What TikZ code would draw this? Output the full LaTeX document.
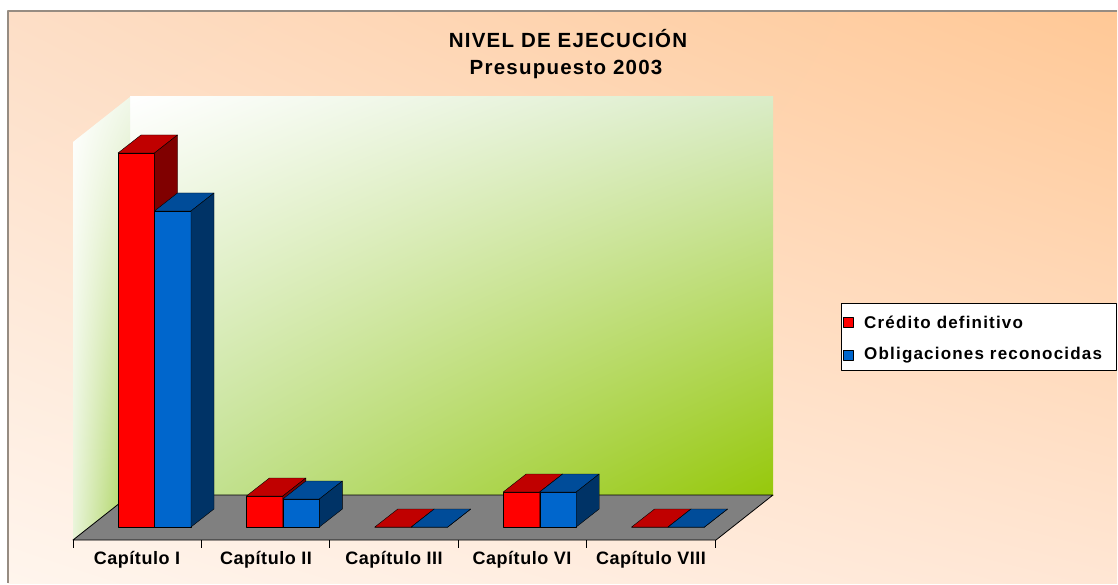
\documentclass[tikz,border=0pt]{standalone}
\usepackage{fontspec}
\setmainfont{Liberation Sans}
\usepackage{tikz}
\usetikzlibrary{shadings}

\definecolor{fondoA}{RGB}{253,222,198}
\definecolor{fondoB}{RGB}{255,200,150}
\definecolor{fondoC}{RGB}{255,245,237}
\definecolor{fondoD}{RGB}{255,230,212}
\definecolor{verdeA}{RGB}{218,236,200}
\definecolor{verdeB}{RGB}{200,228,162}
\definecolor{verdeC}{RGB}{150,200,10}
\definecolor{verdeD}{RGB}{165,208,80}
\definecolor{rojoF}{RGB}{255,0,0}
\definecolor{rojoT}{RGB}{192,0,0}
\definecolor{rojoS}{RGB}{128,0,0}
\definecolor{azulF}{RGB}{0,102,204}
\definecolor{azulT}{RGB}{0,76,153}
\definecolor{azulS}{RGB}{0,51,102}
\definecolor{marco}{RGB}{150,140,130}

% x, height, front, top, side
\newcommand{\cajabar}[5]{%
	\filldraw[fill=#3] (#1,527) rectangle ++(36.5,-#2);
	\filldraw[fill=#4] (#1,527-#2) -- ++(23,-18) -- ++(36.5,0) -- ++(-23,18) -- cycle;
	\filldraw[fill=#5] (#1+36.5,527) -- ++(0,-#2) -- ++(23,-18) -- ++(0,#2) -- cycle;
}

\begin{document}
\begin{tikzpicture}[x=1pt,y=-1pt,line join=round,
	titulo/.style={font=\fontsize{20.5}{24}\selectfont\bfseries\addfontfeatures{LetterSpace=6}},
	etiqueta/.style={font=\fontsize{18}{22}\selectfont\bfseries\addfontfeatures{LetterSpace=3}},
	leyenda/.style={font=\fontsize{17}{20}\selectfont\bfseries\addfontfeatures{LetterSpace=7},anchor=west,inner sep=0pt}]
	\useasboundingbox (0,0) rectangle (1118,585);

	% fondo
	\shade[upper left=fondoA,upper right=fondoB,lower left=fondoC,lower right=fondoD]
		(8,11) rectangle (1117,583);
	\draw[marco,line width=1.2pt] (8,583) -- (8,11) -- (1117,11);

	% paredes
	\shade[upper left=white,upper right=verdeA,lower left=verdeB,lower right=verdeC]
		(130,97) rectangle (773,495);
	\shade[upper left=white,upper right=white!60!verdeA,lower left=white!60!verdeB,lower right=verdeD]
		(73,142) -- (130,97) -- (130,495) -- (73,540) -- cycle;

	% suelo
	\filldraw[fill=gray,line width=0.8pt] (73,540) -- (716,540) -- (773,495) -- (130,495) -- cycle;
	\foreach \t in {0,...,5}
		\draw[line width=0.8pt] (73+128.4*\t,540) -- ++(0,8);

	% barras
	\foreach \k/\hr/\hb in {0/374/316, 1/31/28, 2/0/0, 3/35/35, 4/0/0}
		{
		\pgfmathsetmacro\xr{118+128.4*\k}
		\pgfmathsetmacro\xb{\xr+36.5}
		\cajabar{\xr}{\hr}{rojoF}{rojoT}{rojoS}
		\cajabar{\xb}{\hb}{azulF}{azulT}{azulS}
		}

	% textos
	\node[titulo] (tit) at (568,39) {NIVEL DE EJECUCIÓN};
	\node[titulo] (subtit) at (566,69) {Presupuesto 2003};

	\node[etiqueta] (cap1) at (137,560) {Capítulo I};
	\node[etiqueta] (cap2) at (266,560) {Capítulo II};
	\node[etiqueta] (cap3) at (394,560) {Capítulo III};
	\node[etiqueta] (cap6) at (522,560) {Capítulo VI};
	\node[etiqueta] (cap8) at (651,560) {Capítulo VIII};

	% leyenda
	\draw[fill=white,line width=0.8pt] (841,303) rectangle (1116,370);
	\draw[fill=rojoF] (843,317) rectangle ++(10,10);
	\draw[fill=azulF] (843,350) rectangle ++(10,10);
	\node[leyenda] (ley1) at (864,322) {Crédito definitivo};
	\node[leyenda] (ley2) at (864,355) {Obligaciones reconocidas};
\end{tikzpicture}
\end{document}
